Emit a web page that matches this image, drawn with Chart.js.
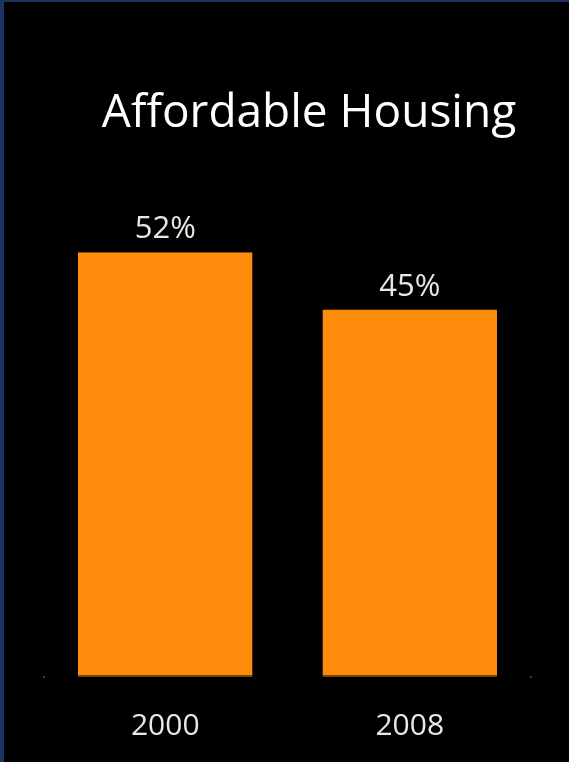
<!DOCTYPE html>
<html>
<head>
<meta charset="utf-8">
<style>
  html, body { margin: 0; padding: 0; background: #000; }
  #wrap { width: 569px; height: 762px; }
</style>
</head>
<body>
<div id="wrap"><canvas id="chartBar" width="569" height="762"></canvas></div>
<script src="https://cdn.jsdelivr.net/npm/chart.js@4"></script>
<script>
const chartTitle = "Affordable Housing";
const years = ["2000", "2008"];
const shares = [52, 45];
const barColor = "#ff8b0a";

// black slide background with the navy frame on the top and left
const slideBackground = {
    id: 'slideBackground',
    beforeDraw(chart) {
        const ctx = chart.ctx;
        ctx.save();
        ctx.fillStyle = '#000';
        ctx.fillRect(0, 0, chart.width, chart.height);
        ctx.fillStyle = '#1b3262';
        ctx.fillRect(0, 0, chart.width, 2);
        ctx.fillRect(0, 0, 4, chart.height);
        ctx.restore();
    }
};

const slideText = {
    id: 'slideText',
    afterDatasetsDraw(chart) {
        const ctx = chart.ctx;
        const area = chart.chartArea;
        ctx.save();

        ctx.fillStyle = '#fff';
        ctx.font = '46px "Open Sans"';
        ctx.textAlign = 'center';
        ctx.textBaseline = 'alphabetic';
        ctx.fillText(chartTitle, 309, 127);

        // percent labels above each bar
        ctx.fillStyle = '#e6e6e6';
        ctx.font = '31px "Open Sans"';
        const meta = chart.getDatasetMeta(0);
        meta.data.forEach(function(bar, i) {
            ctx.fillText(shares[i] + '%', bar.x, bar.y - 14);
        });

        // faint ticks at the ends of the baseline
        ctx.fillStyle = '#3a3a3a';
        ctx.fillRect(area.left, area.bottom - 1, 2, 2);
        ctx.fillRect(area.right - 2, area.bottom - 1, 2, 2);
        ctx.restore();
    }
};

const data = {
    labels: years,
    datasets: [{
        data: shares,
        backgroundColor: barColor,
        borderColor: '#7a4205',
        borderWidth: { top: 0, left: 0, right: 0, bottom: 2 },
        borderSkipped: false,
        barPercentage: 0.714,
        categoryPercentage: 1.0,
    }],
};

const configBarChart = {
    type: 'bar',
    data,
    options: {
        responsive: false,
        animation: false,
        layout: {
            padding: { left: 43, right: 37, top: 187, bottom: 0 },
        },
        plugins: {
            legend: { display: false },
            title: { display: false },
            tooltip: { enabled: false },
        },
        scales: {
            x: {
                grid: { display: false, drawTicks: false },
                border: { display: false },
                ticks: {
                    color: '#e8e8e8',
                    padding: 31,
                    font: { family: '"Open Sans"', size: 30 },
                },
                afterFit(scale) {
                    scale.height = 85;
                },
            },
            y: {
                display: false,
                min: 0,
                max: 60,
            },
        },
    },
    plugins: [slideBackground, slideText],
};

var chartBar = new Chart(
    document.getElementById('chartBar'),
    configBarChart
);
</script>
</body>
</html>
